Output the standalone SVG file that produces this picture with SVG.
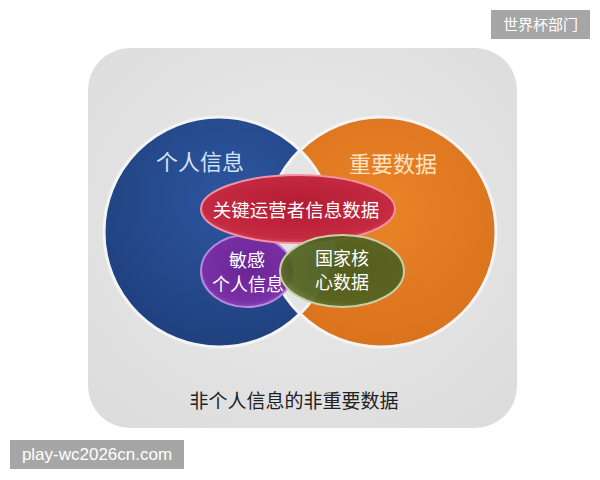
<svg xmlns="http://www.w3.org/2000/svg" width="600" height="480" viewBox="0 0 600 480">
  <defs>
    <radialGradient id="bgG" cx="0.5" cy="0.45" r="0.7">
      <stop offset="0" stop-color="#ececec"/>
      <stop offset="1" stop-color="#dcdcdc"/>
    </radialGradient>
    <radialGradient id="blueG" cx="0.55" cy="0.35" r="0.7">
      <stop offset="0" stop-color="#2d56a0"/>
      <stop offset="1" stop-color="#1f3f7c"/>
    </radialGradient>
    <radialGradient id="orangeG" cx="0.5" cy="0.4" r="0.7">
      <stop offset="0" stop-color="#ea8428"/>
      <stop offset="1" stop-color="#d7701b"/>
    </radialGradient>
    <radialGradient id="redG" cx="0.5" cy="0.45" r="0.6">
      <stop offset="0" stop-color="#b41c34"/>
      <stop offset="0.8" stop-color="#c42a40"/>
      <stop offset="1" stop-color="#e0506a"/>
    </radialGradient>
    <radialGradient id="purpleG" cx="0.5" cy="0.45" r="0.6">
      <stop offset="0" stop-color="#6a2494"/>
      <stop offset="0.8" stop-color="#7a30a6"/>
      <stop offset="1" stop-color="#9a50c8"/>
    </radialGradient>
    <radialGradient id="greenG" cx="0.55" cy="0.45" r="0.6">
      <stop offset="0" stop-color="#4a5a1c"/>
      <stop offset="0.8" stop-color="#50621f"/>
      <stop offset="1" stop-color="#6a7c34"/>
    </radialGradient>
    <style>
      .cjk { font-family: "Noto Sans CJK SC", "Noto Sans", sans-serif; }
      .w { fill: #ffffff; }
    </style>
  </defs>

  <rect x="0" y="0" width="600" height="480" fill="#ffffff"/>

  <g id="background">
    <rect x="88" y="48" width="429" height="380" rx="42" ry="42" fill="url(#bgG)"/>
  </g>

  <g id="personal">
    <circle cx="219" cy="232" r="115" fill="url(#blueG)" stroke="#f4f4f4" stroke-width="3"/>
  </g>
  <g id="important">
    <circle cx="381" cy="232" r="115" fill="url(#orangeG)" stroke="#f4f4f4" stroke-width="3"/>
  </g>
  <g id="lens">
    <path d="M300,150 A115,115 0 0 1 300,314 A115,115 0 0 1 300,150 Z" fill="#e4e4e4" stroke="#f4f4f4" stroke-width="3"/>
  </g>
  <g id="personal-label">
    <text x="200" y="170" class="cjk" font-size="22" fill="#d4e2f4" text-anchor="middle">个人信息</text>
  </g>
  <g id="important-label">
    <text x="393" y="172" class="cjk" font-size="22" fill="#fde3c4" text-anchor="middle">重要数据</text>
  </g>

  <g id="sensitive">
    <ellipse cx="247" cy="271" rx="46" ry="36" fill="url(#purpleG)" stroke="#b68ae0" stroke-width="2"/>
    <text x="247" y="267" class="cjk w" font-size="18" text-anchor="middle">敏感</text>
    <text x="248" y="291" class="cjk w" font-size="18" text-anchor="middle">个人信息</text>
  </g>

  <g id="critical">
    <ellipse cx="298" cy="209" rx="97" ry="34" fill="url(#redG)" stroke="#f290a4" stroke-width="2"/>
    <text x="296" y="217" class="cjk w" font-size="18.5" text-anchor="middle">关键运营者信息数据</text>
  </g>

  <g id="core">
    <ellipse cx="342" cy="271" rx="62" ry="36" fill="url(#greenG)" fill-opacity="0.93" stroke="#c8d0a8" stroke-width="2"/>
    <text x="342" y="265" class="cjk w" font-size="18" text-anchor="middle">国家核</text>
    <text x="342" y="289" class="cjk w" font-size="18" text-anchor="middle">心数据</text>
  </g>

  <g id="bottom-label">
    <text x="294" y="408" class="cjk" font-size="19" fill="#222222" text-anchor="middle">非个人信息的非重要数据</text>
  </g>

  <g id="watermark-top">
    <rect x="491" y="10" width="99" height="29" fill="#a6a6a6"/>
    <text x="540.5" y="30" class="cjk w" font-size="15" text-anchor="middle">世界杯部门</text>
  </g>
  <g id="watermark-bottom">
    <rect x="10" y="440" width="174" height="29" fill="#a6a6a6"/>
    <text x="97" y="460" font-family="Liberation Sans, Arial, sans-serif" font-size="17" fill="#ffffff" text-anchor="middle">play-wc2026cn.com</text>
  </g>
</svg>
